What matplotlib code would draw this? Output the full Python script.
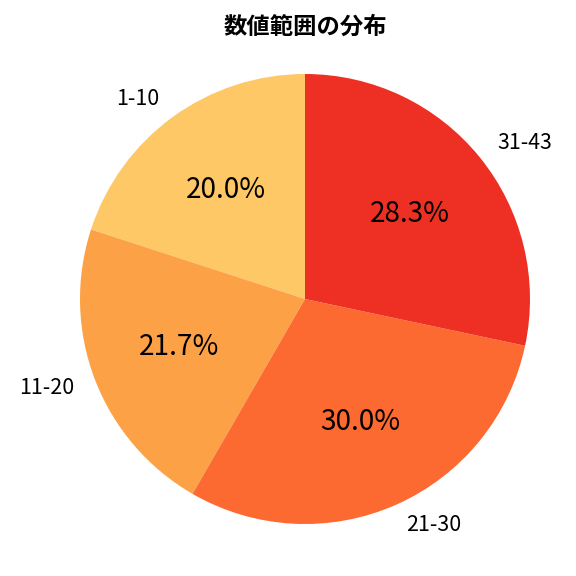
import matplotlib
matplotlib.use("Agg")
import matplotlib.pyplot as plt

plt.rcParams['font.family'] = ['Noto Sans CJK JP', 'DejaVu Sans']

labels = ["1-10", "11-20", "21-30", "31-43"]
counts = [12, 13, 18, 17]
colors = ["#FEC866", "#FDA146", "#FC6A32", "#EE3024"]
title = "数値範囲の分布"

W = 576
fig = plt.figure(figsize=(6, 6), dpi=96)
cx, cy, r = 305, 299, 225
lim = 1.2
half = lim * r
ax = fig.add_axes([(cx - half) / W, 1 - (cy + half) / W, 2 * half / W, 2 * half / W])
wedges, texts, autotexts = ax.pie(counts, labels=labels, colors=colors, autopct="%1.1f%%",
                                  startangle=90, textprops={'fontsize': 16})
for t in autotexts:
    t.set_fontsize(21)
ax.set_xlim(-lim, lim)
ax.set_ylim(-lim, lim)
ax.set_aspect('equal')
ax.axis('off')
fig.text(cx / W, 1 - 27 / W, title, fontsize=17.5, fontweight='bold', ha='center', va='center')
plt.savefig("out.png", dpi=96)
